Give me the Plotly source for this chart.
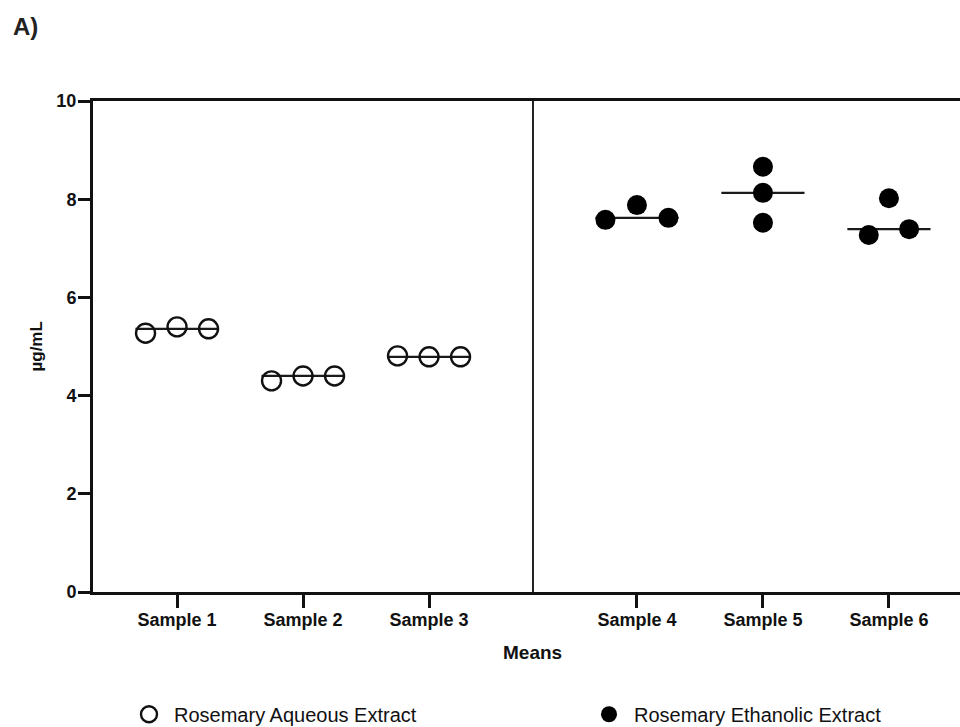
import numpy as np
import plotly.graph_objects as go

# ---- data -------------------------------------------------------------
aqueous_samples = ["Sample 1", "Sample 2", "Sample 3"]
ethanolic_samples = ["Sample 4", "Sample 5", "Sample 6"]

# replicate concentrations (µg/mL)
aqueous_values = [
    [5.27, 5.40, 5.36],
    [4.30, 4.40, 4.40],
    [4.81, 4.79, 4.79],
]
ethanolic_values = [
    [7.58, 7.88, 7.62],
    [8.66, 8.13, 7.52],
    [7.27, 8.02, 7.39],
]
y_ticks = [0, 2, 4, 6, 8, 10]

# ---- layout helpers ---------------------------------------------------
GROUP_GAP = 0.65           # extra space between the two extract groups
MEDIAN_HALF = 0.33         # half-width of the median bar
# horizontal scatter of replicate points around each category
aqueous_offsets = [[-0.25, 0.0, 0.25]] * 3
ethanolic_offsets = [[-0.25, 0.0, 0.25], [0.0, 0.0, 0.0], [-0.16, 0.0, 0.16]]

aq_pos = [i + 1 for i in range(len(aqueous_samples))]
et_pos = [len(aqueous_samples) + 1 + GROUP_GAP + i for i in range(len(ethanolic_samples))]
separator = (aq_pos[-1] + et_pos[0]) / 2
x_range = [0.333, 7.214]

FONT = "Liberation Sans, Arial, Helvetica, sans-serif"
INK = "#111111"


def scatter_xy(positions, offsets, values):
    xs, ys = [], []
    for p, offs, vals in zip(positions, offsets, values):
        for o, v in zip(offs, vals):
            xs.append(p + o)
            ys.append(v)
    return xs, ys


def median_xy(positions, values):
    xs, ys = [], []
    for p, vals in zip(positions, values):
        m = float(np.median(vals))
        xs += [p - MEDIAN_HALF, p + MEDIAN_HALF, None]
        ys += [m, m, None]
    return xs, ys


fig = go.Figure()

for pos, vals in ((aq_pos, aqueous_values), (et_pos, ethanolic_values)):
    mx, my = median_xy(pos, vals)
    fig.add_trace(go.Scatter(x=mx, y=my, mode="lines", showlegend=False,
                             hoverinfo="skip",
                             line=dict(color="#1a1a1a", width=2.2)))

ax, ay = scatter_xy(aq_pos, aqueous_offsets, aqueous_values)
fig.add_trace(go.Scatter(
    x=ax, y=ay, mode="markers", name="Rosemary Aqueous Extract",
    legend="legend",
    marker=dict(symbol="circle-open", size=19, color=INK,
                line=dict(width=2.4, color=INK)),
))

ex, ey = scatter_xy(et_pos, ethanolic_offsets, ethanolic_values)
fig.add_trace(go.Scatter(
    x=ex, y=ey, mode="markers", name="Rosemary Ethanolic Extract",
    legend="legend2",
    marker=dict(symbol="circle", size=20, color="#000000",
                line=dict(width=0)),
))

# vertical divider between groups
fig.add_shape(type="line", xref="x", yref="paper", x0=separator, x1=separator,
              y0=0, y1=1, line=dict(color="#222222", width=2))

fig.update_xaxes(
    range=x_range,
    tickmode="array",
    tickvals=aq_pos + et_pos,
    ticktext=aqueous_samples + ethanolic_samples,
    ticks="outside", ticklen=13, tickwidth=2.5, tickcolor=INK,
    ticklabelstandoff=-4,
    showline=True, linecolor=INK, linewidth=3, mirror=True,
    showgrid=False, zeroline=False,
    tickfont=dict(family=FONT, size=18, color=INK, weight="bold"),
)
fig.update_yaxes(
    range=[0, 10],
    tickmode="array", tickvals=y_ticks, ticktext=[str(t) for t in y_ticks],
    ticks="outside", ticklen=12, tickwidth=2.5, tickcolor=INK,
    ticklabelstandoff=-2,
    showline=True, linecolor=INK, linewidth=3,
    showgrid=False, zeroline=False,
    tickfont=dict(family=FONT, size=18, color=INK, weight="bold"),
)

fig.add_annotation(text="Means", xref="x", yref="paper", x=separator, y=-0.124,
                   showarrow=False, yanchor="middle",
                   font=dict(family=FONT, size=19, color=INK, weight="bold"))
fig.add_annotation(text="µg/mL", xref="paper", yref="paper", x=-0.0657, y=0.5,
                   textangle=-90, showarrow=False, xanchor="center", yanchor="middle",
                   font=dict(family=FONT, size=17, color=INK, weight="bold"))
fig.add_annotation(text="A)", xref="paper", yref="paper", x=-0.0773, y=1.152,
                   showarrow=False, xanchor="center", yanchor="middle",
                   font=dict(family=FONT, size=24, color="#222222", weight="bold"))

legend_style = dict(orientation="h", xref="container", yref="container",
                    xanchor="left", yanchor="middle", y=0.0175, itemwidth=40,
                    bgcolor="rgba(0,0,0,0)",
                    font=dict(family=FONT, size=20, color=INK))

fig.update_layout(
    width=960, height=727,
    margin=dict(l=93, r=0, t=101, b=135, autoexpand=False),
    paper_bgcolor="white", plot_bgcolor="white",
    legend=dict(x=124 / 960, **legend_style),
    legend2=dict(x=584 / 960, **legend_style),
)

fig.write_html("out.html")
